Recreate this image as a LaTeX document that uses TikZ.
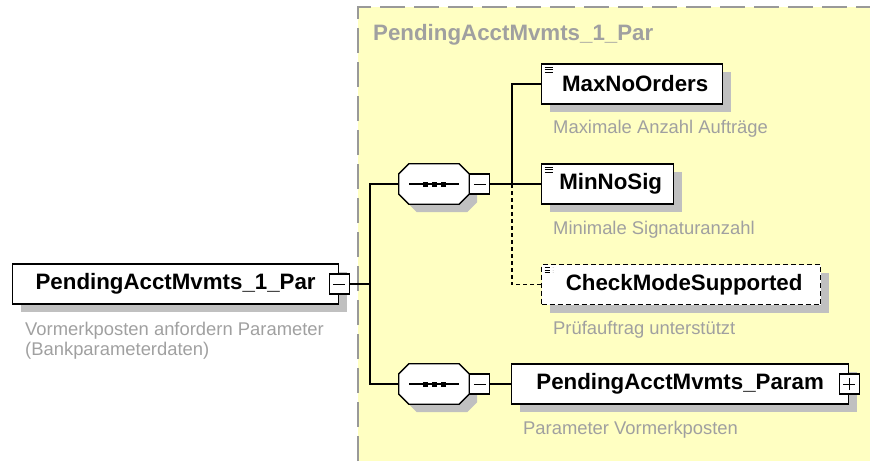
\documentclass[tikz,border=0pt]{standalone}
\usepackage{fontspec}
\setmainfont{Liberation Sans}
\usepackage{xcolor}
\usetikzlibrary{positioning,shadows}
\definecolor{schemaYellow}{HTML}{FFFFC2}
\definecolor{schemaGray}{HTML}{A0A0A0}
\definecolor{schemaShadow}{HTML}{C0C0C0}
\definecolor{schemaFrame}{HTML}{999999}
\tikzset{
  element/.style={
    rectangle,
    draw=black,
    fill=white,
    line width=1.3pt,
    minimum height=40pt,
    inner sep=0pt,
    font=\fontsize{22.3}{26}\selectfont\bfseries,
    drop shadow={shadow xshift=8pt,shadow yshift=-8pt,fill=schemaShadow,opacity=1}
  },
  docElement/.style={
    element,
    path picture={
      \foreach \dy in {3,5.5,8}
        \draw[line width=0.8pt] ([xshift=3pt,yshift=-\dy pt]path picture bounding box.north west) -- ++(8pt,0);
    }
  },
  optionalElement/.style={
    docElement,
    dash pattern=on 5pt off 3pt
  },
  sequence/.style={
    rectangle,
    minimum width=70pt,
    minimum height=40pt,
    inner sep=0pt
  },
  sequenceOutline/.style={
    draw=black,
    fill=white,
    line width=1.3pt
  },
  toggle/.style={
    rectangle,
    draw=black,
    fill=white,
    line width=1.1pt,
    minimum size=20pt,
    inner sep=0pt
  },
  toggleMinus/.style={
    toggle,
    path picture={
      \draw[line width=1pt] ([xshift=-6pt]path picture bounding box.center) -- ([xshift=6pt]path picture bounding box.center);
    }
  },
  togglePlus/.style={
    toggle,
    path picture={
      \draw[line width=1pt] ([xshift=-6pt]path picture bounding box.center) -- ([xshift=6pt]path picture bounding box.center);
      \draw[line width=1pt] ([yshift=-6pt]path picture bounding box.center) -- ([yshift=6pt]path picture bounding box.center);
    }
  },
  note/.style={
    font=\fontsize{18.4}{20}\selectfont,
    text=schemaGray,
    align=left,
    inner sep=0pt
  },
  link/.style={
    line width=1.3pt,
    draw=black
  },
  optionalLink/.style={
    link,
    dash pattern=on 4pt off 3pt
  },
  frameDash/.style={
    draw=schemaFrame,
    line width=2pt,
    dash pattern=on 25pt off 9pt
  }
}

\begin{document}
\begin{tikzpicture}[x=1pt,y=-1pt]
  \useasboundingbox (0,0) rectangle (870,461);
  % group frame
  \fill[schemaYellow] (358,7) rectangle (870,461);
  \draw[frameDash] (358,461) -- (358,7) -- (870,7);
  \node[note,anchor=west,font=\fontsize{22.3}{26}\selectfont\bfseries] (groupTitle) at (373,35) {PendingAcctMvmts\_1\_Par};

  % root element
  \node[element,anchor=west,minimum width=326pt] (root) at (12,284) {PendingAcctMvmts\_1\_Par};
  \node[toggleMinus] (rootToggle) at (root.east) {};
  \node[note,below right=36pt and 13pt of root.south west,anchor=west] (rootNote) {Vormerkposten anfordern Parameter\\(Bankparameterdaten)};
  \coordinate (fork) at (370,284);

  % sequences
  \node[sequence] (seqA) at (434,184) {};
  \node[sequence] (seqB) at (434,384) {};
  \foreach \seq in {seqA,seqB} {
    \fill[schemaShadow] ([shift={(18pt,-8pt)}]\seq.north west) -- ([shift={(-2pt,-8pt)}]\seq.north east)
      -- ([shift={(8pt,-18pt)}]\seq.north east) -- ([shift={(8pt,2pt)}]\seq.south east)
      -- ([shift={(-2pt,-8pt)}]\seq.south east) -- ([shift={(18pt,-8pt)}]\seq.south west)
      -- ([shift={(8pt,2pt)}]\seq.south west) -- ([shift={(8pt,-18pt)}]\seq.north west) -- cycle;
    \filldraw[sequenceOutline] ([xshift=10pt]\seq.north west) -- ([xshift=-10pt]\seq.north east)
      -- ([yshift=-10pt]\seq.north east) -- ([yshift=10pt]\seq.south east)
      -- ([xshift=-10pt]\seq.south east) -- ([xshift=10pt]\seq.south west)
      -- ([yshift=10pt]\seq.south west) -- ([yshift=-10pt]\seq.north west) -- cycle;
    \draw[line width=1.2pt] ([xshift=-25pt]\seq.center) -- ([xshift=25pt]\seq.center);
    \foreach \dx in {-9,0,9}
      \fill ([shift={({\dx*1pt-2.5pt},-2.5pt)}]\seq.center) rectangle ++(5pt,5pt);
  }
  \node[toggleMinus,right=0pt of seqA] (seqAToggle) {};
  \node[toggleMinus,right=0pt of seqB] (seqBToggle) {};
  \coordinate (branch) at (512,184);

  % children
  \node[docElement,anchor=west,minimum width=181pt] (maxNo) at (541,84) {\hspace{6pt}MaxNoOrders};
  \node[note,below right=24pt and 12pt of maxNo.south west,anchor=west] (maxNoNote) {Maximale Anzahl Aufträge};
  \node[docElement,anchor=west,minimum width=132pt] (minNo) at (541,184) {\hspace{6pt}MinNoSig};
  \node[note,below right=25pt and 12pt of minNo.south west,anchor=west] (minNoNote) {Minimale Signaturanzahl};
  \node[optionalElement,anchor=west,minimum width=279pt] (checkMode) at (541,284.5) {\hspace{6pt}CheckModeSupported};
  \node[note,below right=25pt and 12pt of checkMode.south west,anchor=west] (checkNote) {Prüfauftrag unterstützt};
  \node[element,anchor=west,minimum width=337pt] (param) at (511,384) {PendingAcctMvmts\_Param\hspace{6pt}};
  \node[togglePlus] (paramToggle) at (param.east) {};
  \node[note,below right=25pt and 12pt of param.south west,anchor=west] (paramNote) {Parameter Vormerkposten};

  % connectors
  \draw[link] (rootToggle.east) -- (fork);
  \draw[link] (seqA.west) -| (fork);
  \draw[link] (seqB.west) -| (fork);
  \draw[link] (seqAToggle.east) -- (minNo.west);
  \draw[link] (maxNo.west) -| (branch);
  \draw[optionalLink] (checkMode.west) -| (branch);
  \draw[link] (seqBToggle.east) -- (param.west);
\end{tikzpicture}
\end{document}
